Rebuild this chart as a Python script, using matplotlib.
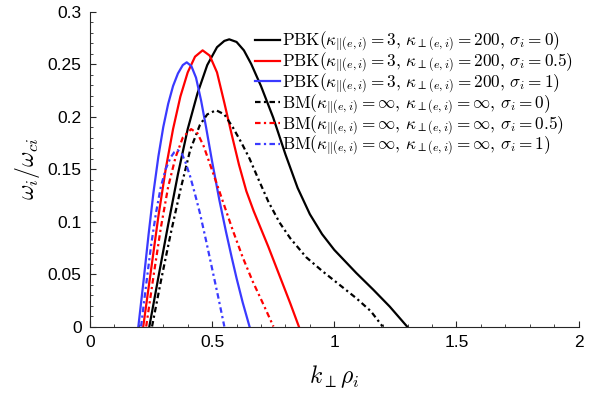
import matplotlib
matplotlib.use("Agg")
import matplotlib.pyplot as plt
from matplotlib.ticker import MultipleLocator

plt.rcParams['mathtext.fontset'] = 'cm'
plt.rcParams['font.family'] = ['Liberation Sans', 'DejaVu Sans']

# PBK, sigma_i = 0
pbk0_k = [0.243, 0.28, 0.32, 0.36, 0.40, 0.44, 0.48, 0.52, 0.55, 0.57, 0.60, 0.63, 0.66, 0.70, 0.75,
          0.80, 0.85, 0.90, 0.95, 1.00, 1.09, 1.16, 1.227, 1.298]
pbk0_w = [0.0, 0.047, 0.097, 0.145, 0.188, 0.222, 0.249, 0.266, 0.272, 0.2735, 0.271, 0.263, 0.250, 0.229, 0.199,
          0.164, 0.132, 0.107, 0.088, 0.073, 0.051, 0.035, 0.019, 0.0]
# PBK, sigma_i = 0.5
pbk05_k = [0.218, 0.25, 0.28, 0.31, 0.34, 0.37, 0.40, 0.43, 0.461, 0.49, 0.52, 0.55, 0.58, 0.61, 0.64,
           0.67, 0.70, 0.73, 0.76, 0.79, 0.82, 0.855]
pbk05_w = [0.0, 0.054, 0.105, 0.150, 0.188, 0.219, 0.242, 0.257, 0.263, 0.258, 0.242, 0.213, 0.183, 0.154, 0.129,
           0.110, 0.093, 0.076, 0.058, 0.040, 0.022, 0.0]
# PBK, sigma_i = 1
pbk1_k = [0.198, 0.22, 0.24, 0.26, 0.28, 0.30, 0.32, 0.34, 0.36, 0.38, 0.396, 0.415, 0.434, 0.455, 0.475,
          0.50, 0.53, 0.557, 0.58, 0.60, 0.625, 0.653]
pbk1_w = [0.0, 0.045, 0.088, 0.128, 0.162, 0.190, 0.212, 0.229, 0.241, 0.249, 0.2516, 0.248, 0.237, 0.215, 0.190,
          0.157, 0.120, 0.090, 0.066, 0.046, 0.023, 0.0]
# BM, sigma_i = 0
bm0_k = [0.254, 0.29, 0.33, 0.37, 0.41, 0.45, 0.48, 0.516, 0.55, 0.584, 0.62, 0.653, 0.69, 0.73, 0.776,
         0.82, 0.885, 0.95, 1.02, 1.09, 1.15, 1.198]
bm0_w = [0.0, 0.043, 0.088, 0.130, 0.168, 0.192, 0.202, 0.206, 0.202, 0.190, 0.175, 0.160, 0.140, 0.119, 0.099,
         0.084, 0.066, 0.053, 0.040, 0.027, 0.0145, 0.0]
# BM, sigma_i = 0.5
bm05_k = [0.230, 0.26, 0.29, 0.32, 0.35, 0.38, 0.414, 0.44, 0.465, 0.489, 0.516, 0.55, 0.584, 0.625,
          0.666, 0.71, 0.751]
bm05_w = [0.0, 0.048, 0.094, 0.133, 0.161, 0.180, 0.188, 0.184, 0.172, 0.156, 0.138, 0.115, 0.092, 0.066,
          0.043, 0.021, 0.0]
# BM, sigma_i = 1
bm1_k = [0.209, 0.23, 0.25, 0.27, 0.29, 0.31, 0.33, 0.345, 0.359, 0.375, 0.39, 0.41, 0.43, 0.45, 0.475,
         0.50, 0.525, 0.55]
bm1_w = [0.0, 0.040, 0.077, 0.108, 0.133, 0.150, 0.161, 0.166, 0.168, 0.165, 0.157, 0.143, 0.126, 0.108, 0.082,
         0.055, 0.028, 0.0]

labels = [
    r'$\mathrm{PBK}(\kappa_{\|(e,i)}=3,\,\kappa_{\perp(e,i)}=200,\,\sigma_i=0)$',
    r'$\mathrm{PBK}(\kappa_{\|(e,i)}=3,\,\kappa_{\perp(e,i)}=200,\,\sigma_i=0.5)$',
    r'$\mathrm{PBK}(\kappa_{\|(e,i)}=3,\,\kappa_{\perp(e,i)}=200,\,\sigma_i=1)$',
    r'$\mathrm{BM}(\kappa_{\|(e,i)}=\infty,\,\kappa_{\perp(e,i)}=\infty,\,\sigma_i=0)$',
    r'$\mathrm{BM}(\kappa_{\|(e,i)}=\infty,\,\kappa_{\perp(e,i)}=\infty,\,\sigma_i=0.5)$',
    r'$\mathrm{BM}(\kappa_{\|(e,i)}=\infty,\,\kappa_{\perp(e,i)}=\infty,\,\sigma_i=1)$',
]

black = '#000000'
red = '#ff0000'
blue = '#3a3aff'
dd = (0, (2.5, 1.5, 1.0, 1.5))
lw = 1.6

fig = plt.figure(figsize=(6.02, 3.94), dpi=100)
ax = fig.add_axes([0.1495, 0.1713, 0.8115, 0.7995])

ax.plot(pbk0_k, pbk0_w, color=black, lw=lw, label=labels[0])
ax.plot(pbk05_k, pbk05_w, color=red, lw=lw, label=labels[1])
ax.plot(pbk1_k, pbk1_w, color=blue, lw=lw, label=labels[2])
ax.plot(bm0_k, bm0_w, color=black, lw=lw, ls=dd, label=labels[3])
ax.plot(bm05_k, bm05_w, color=red, lw=lw, ls=dd, label=labels[4])
ax.plot(bm1_k, bm1_w, color=blue, lw=lw, ls=dd, label=labels[5])

ax.set_xlim(0, 2)
ax.set_ylim(0, 0.3)
ax.xaxis.set_minor_locator(MultipleLocator(0.1))
ax.yaxis.set_minor_locator(MultipleLocator(0.01))
ax.set_xticks([0, 0.5, 1, 1.5, 2])
ax.set_xticklabels(['0', '0.5', '1', '1.5', '2'])
ax.set_yticks([0, 0.05, 0.1, 0.15, 0.2, 0.25, 0.3])
ax.set_yticklabels(['0', '0.05', '0.1', '0.15', '0.2', '0.25', '0.3'])

for s in ['top', 'right']:
    ax.spines[s].set_visible(False)
for s in ['left', 'bottom']:
    ax.spines[s].set_linewidth(0.8)
    ax.spines[s].set_color('#262626')

ax.tick_params(which='both', direction='in', top=False, right=False, colors='#262626',
               labelcolor='black', labelsize=12.5)
ax.tick_params(which='major', length=4.5, width=0.8, pad=6)
ax.tick_params(which='minor', length=2.2, width=0.6)

ax.set_xlabel(r'$k_{\perp}\rho_i$', fontsize=17, labelpad=10)
ax.set_ylabel(r'$\omega_i/\omega_{ci}$', fontsize=17, labelpad=4)

leg = ax.legend(loc='upper left', bbox_to_anchor=(0.338, 0.942), frameon=False, fontsize=12.4,
                handlelength=1.45, handletextpad=0.12, labelspacing=-0.19, borderpad=0.0,
                borderaxespad=0.0)

fig.savefig('out.png', dpi=100)
